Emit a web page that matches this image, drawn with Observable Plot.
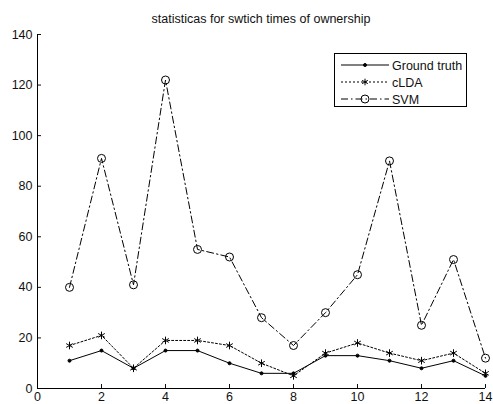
<!DOCTYPE html>
<html>
<head>
<meta charset="utf-8">
<script src="https://cdn.jsdelivr.net/npm/d3@7"></script>
<script src="https://cdn.jsdelivr.net/npm/@observablehq/plot@0.6"></script>
<style>
  html, body { margin: 0; padding: 0; background: #fff; }
  #wrap { position: relative; width: 493px; height: 404px; font-family: "Liberation Sans", Arial, sans-serif; }
  #title { height: 28px; box-sizing: border-box; padding: 13px 8px 0 37px; text-align: center; font-size: 12.5px; line-height: 13px; color: #111; }
  #legend { position: absolute; left: 334px; top: 53px; }
  svg { overflow: visible; }
</style>
</head>
<body>
<div id="wrap">
  <div id="title">statisticas for swtich times of ownership</div>
  <div id="chart"></div>
  <div id="legend"></div>
</div>
<script>
const xs = [1,2,3,4,5,6,7,8,9,10,11,12,13,14];
const groundTruth = [11,15,8,15,15,10,6,6,13,13,11,8,11,5];
const clda = [17,21,8,19,19,17,10,5,14,18,14,11,14,6];
const svm = [40,91,41,122,55,52,28,17,30,45,90,25,51,12];
const seriesNames = ["Ground truth", "cLDA", "SVM"];
const xTicks = [0,2,4,6,8,10,12,14];
const yTicks = [0,20,40,60,80,100,120,140];

const styles = {
  "Ground truth": {dash: null, symbol: "circle", r: 1.5, fill: "#000"},
  "cLDA": {dash: "2,2", symbol: "asterisk", r: 3.6, fill: "none"},
  "SVM": {dash: "7,3,1.5,3", symbol: "circle", r: 4, fill: "none"}
};
const allValues = [groundTruth, clda, svm];
const rows = seriesNames.flatMap((name, i) => xs.map((x, j) => ({series: name, x, y: allValues[i][j]})));

const marks = [];
seriesNames.forEach(name => {
  const s = styles[name];
  const data = rows.filter(d => d.series === name);
  marks.push(Plot.line(data, {x: "x", y: "y", stroke: "#000", strokeWidth: 1, strokeDasharray: s.dash}));
  marks.push(Plot.dot(data, {x: "x", y: "y", symbol: () => s.symbol, r: s.r, stroke: "#000", strokeWidth: 1, fill: s.fill}));
});

const chart = Plot.plot({
  width: 493,
  height: 376,
  marginLeft: 37,
  marginRight: 8,
  marginTop: 6,
  marginBottom: 16,
  style: {fontFamily: "Liberation Sans, Arial, sans-serif", fontSize: "12.5px", color: "#111", background: "#fff", overflow: "visible"},
  x: {domain: [0, 14], ticks: xTicks},
  y: {domain: [0, 140], ticks: yTicks},
  symbol: {type: "identity"},
  marks: [
    Plot.axisX({ticks: xTicks, tickSize: 0, tickPadding: 4, label: null}),
    Plot.axisX({ticks: xTicks, tickSize: -4, tickFormat: () => "", label: null}),
    Plot.axisY({ticks: yTicks, tickSize: 0, tickPadding: 5, label: null}),
    Plot.axisY({ticks: yTicks, tickSize: -4, tickFormat: () => "", label: null}),
    Plot.ruleX([0], {stroke: "#000"}),
    Plot.ruleY([0], {stroke: "#000"}),
    ...marks
  ]
});
document.getElementById("chart").appendChild(chart);

// Legend
const lw = 133, lh = 54;
const leg = d3.select("#legend").append("svg").attr("width", lw).attr("height", lh);
leg.append("rect").attr("x", 0.5).attr("y", 0.5).attr("width", lw - 1).attr("height", lh - 1).attr("fill", "#fff").attr("stroke", "#000");
seriesNames.forEach((name, i) => {
  const s = styles[name];
  const cy = 12 + i * 17;
  const g = leg.append("g");
  g.append("line").attr("x1", 7).attr("x2", 55).attr("y1", cy).attr("y2", cy).attr("stroke", "#000").attr("stroke-dasharray", s.dash);
  const sym = s.symbol === "asterisk" ? d3.symbolAsterisk : d3.symbolCircle;
  const area = s.symbol === "asterisk" ? 30 : Math.PI * s.r * s.r;
  g.append("path").attr("d", d3.symbol(sym, area)()).attr("transform", `translate(31,${cy})`)
    .attr("stroke", "#000").attr("fill", s.fill);
  g.append("text").attr("x", 58).attr("y", cy + 4.5).attr("font-size", "12.5px").attr("fill", "#111").text(name);
});
</script>
</body>
</html>
